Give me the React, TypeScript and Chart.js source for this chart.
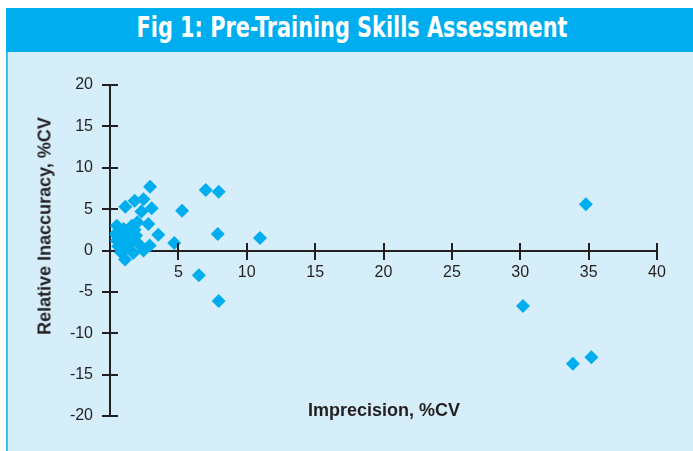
import React, { useEffect, useLayoutEffect, useRef, useState } from 'react';
import { Chart, registerables } from 'chart.js';

Chart.register(...registerables);

const chartTitle = 'Fig 1: Pre-Training Skills Assessment';
const xTitle = 'Imprecision, %CV';
const yTitle = 'Relative Inaccuracy, %CV';

// Imprecision (%CV) per participant
const imprecision = [
  2.93, 7.0, 7.95, 1.12, 1.8, 2.45, 2.3, 3.05, 5.27, 2.8, 3.53, 7.88, 4.7, 10.97, 6.5, 7.95,
  2.45, 2.9, 1.1, 30.2, 33.85, 35.2, 34.8,
  0.5, 0.4, 0.5, 0.6, 0.8, 1.0, 1.1, 1.2, 1.4, 1.5, 1.6, 1.7, 1.9, 2.0, 2.1, 0.8, 1.3, 1.8,
];
// Relative inaccuracy (%CV) per participant
const inaccuracy = [
  7.7, 7.3, 7.1, 5.3, 6.0, 6.2, 4.7, 5.1, 4.8, 3.2, 1.9, 2.0, 0.9, 1.5, -3.0, -6.1,
  0.0, 0.6, -1.1, -6.7, -13.7, -12.9, 5.6,
  3.0, 2.0, 1.2, 0.5, -0.2, 2.6, 1.5, 0.3, 2.2, 1.0, 3.0, -0.3, 1.8, 3.4, 0.8, 1.8, 0.9, 2.5,
];

const xMin = 0;
const xMax = 40;
const yMin = -20;
const yMax = 20;
const tickStep = 5;

const INK = '#231F20';
const CYAN = '#00AEEF';
const PANEL = '#D6EEF9';
const TICK_FONT = '"Liberation Sans", Arial, Helvetica, sans-serif';

const crossTicks = {
  id: 'crossTicks',
  afterDraw(chart: any) {
    const { ctx } = chart;
    const xs = chart.scales.x;
    const ys = chart.scales.y;
    const x0 = Math.round(xs.getPixelForValue(0));
    const y0 = Math.round(ys.getPixelForValue(0));
    ctx.save();
    ctx.strokeStyle = INK;
    ctx.lineWidth = 2;
    ctx.beginPath();
    xs.ticks.forEach((t: any) => {
      if (t.value === 0) return;
      const px = Math.round(xs.getPixelForValue(t.value));
      ctx.moveTo(px, y0 - 8);
      ctx.lineTo(px, y0);
    });
    ys.ticks.forEach((t: any) => {
      if (t.value === 0) return;
      const py = Math.round(ys.getPixelForValue(t.value));
      ctx.moveTo(x0, py);
      ctx.lineTo(x0 + 8, py);
    });
    ctx.stroke();
    ctx.restore();
  },
};

export default function App() {
  const canvasRef = useRef<HTMLCanvasElement | null>(null);
  const titleRef = useRef<HTMLSpanElement | null>(null);
  const [scale, setScale] = useState(1);

  useLayoutEffect(() => {
    if (titleRef.current) {
      const w = titleRef.current.offsetWidth;
      if (w > 0) setScale(431 / w);
    }
  }, []);

  useEffect(() => {
    if (!canvasRef.current) return;
    const points = imprecision.map((x, i) => ({ x, y: inaccuracy[i] }));
    const chart = new Chart(canvasRef.current, {
      type: 'scatter',
      data: {
        datasets: [
          {
            data: points,
            pointStyle: 'rectRot',
            pointRadius: 7,
            pointHoverRadius: 7,
            backgroundColor: CYAN,
            borderColor: CYAN,
            borderWidth: 0,
          },
        ],
      },
      options: {
        responsive: false,
        animation: false,
        devicePixelRatio: 1,
        layout: { padding: { left: 70, right: 36, top: 85, bottom: 35 } },
        plugins: { legend: { display: false }, tooltip: { enabled: false }, title: { display: false } },
        scales: {
          x: {
            type: 'linear',
            min: xMin,
            max: xMax,
            position: { y: 0 } as any,
            ticks: {
              stepSize: tickStep,
              color: INK,
              padding: 4,
              maxRotation: 0,
              font: { family: TICK_FONT, size: 16 },
              callback: (v: any) => (v === 0 ? '' : String(v)),
            },
            grid: { drawOnChartArea: false, drawTicks: true, tickLength: 8, color: INK, lineWidth: 2 },
            border: { display: true, color: INK, width: 2 },
          },
          y: {
            type: 'linear',
            min: yMin,
            max: yMax,
            position: 'left',
            afterFit: (s: any) => {
              s.width = 40;
            },
            ticks: {
              stepSize: tickStep,
              color: INK,
              padding: 9,
              font: { family: TICK_FONT, size: 16 },
            },
            grid: { drawOnChartArea: false, drawTicks: true, tickLength: 8, color: INK, lineWidth: 2 },
            border: { display: true, color: INK, width: 2 },
          },
        },
      },
      plugins: [crossTicks],
    });
    return () => chart.destroy();
  }, []);

  return (
    <div
      style={{
        position: 'fixed',
        left: 0,
        top: 0,
        width: 693,
        height: 451,
        background: '#ffffff',
        overflow: 'hidden',
      }}
    >
      <div style={{ position: 'absolute', left: 6, top: 8, width: 687, height: 44, background: CYAN }} />
      <span
        ref={titleRef}
        style={{
          position: 'absolute',
          left: 352,
          top: 8,
          lineHeight: '38px',
          fontSize: 29,
          fontWeight: 'bold',
          color: '#ffffff',
          whiteSpace: 'nowrap',
          fontFamily: '"Liberation Sans Narrow", "DejaVu Sans Condensed", "Liberation Sans", sans-serif',
          transform: `translateX(-50%) scaleX(${scale})`,
          display: 'inline-block',
        }}
      >
        {chartTitle}
      </span>
      <div
        style={{
          position: 'absolute',
          left: 6,
          top: 52,
          width: 687,
          height: 399,
          background: PANEL,
          borderLeft: '2px solid #3DBDEF',
          boxSizing: 'border-box',
        }}
      />
      <canvas
        ref={canvasRef}
        width={693}
        height={451}
        style={{ position: 'absolute', left: 0, top: 0, width: 693, height: 451 }}
      />
      <div
        style={{
          position: 'absolute',
          left: 384,
          top: 410,
          transform: 'translate(-50%, -50%)',
          fontFamily: TICK_FONT,
          fontWeight: 'bold',
          fontSize: 18,
          color: INK,
          whiteSpace: 'nowrap',
        }}
      >
        {xTitle}
      </div>
      <div
        style={{
          position: 'absolute',
          left: 45,
          top: 226,
          transform: 'translate(-50%, -50%) rotate(-90deg)',
          fontFamily: TICK_FONT,
          fontWeight: 'bold',
          fontSize: 18,
          color: INK,
          whiteSpace: 'nowrap',
        }}
      >
        {yTitle}
      </div>
    </div>
  );
}
